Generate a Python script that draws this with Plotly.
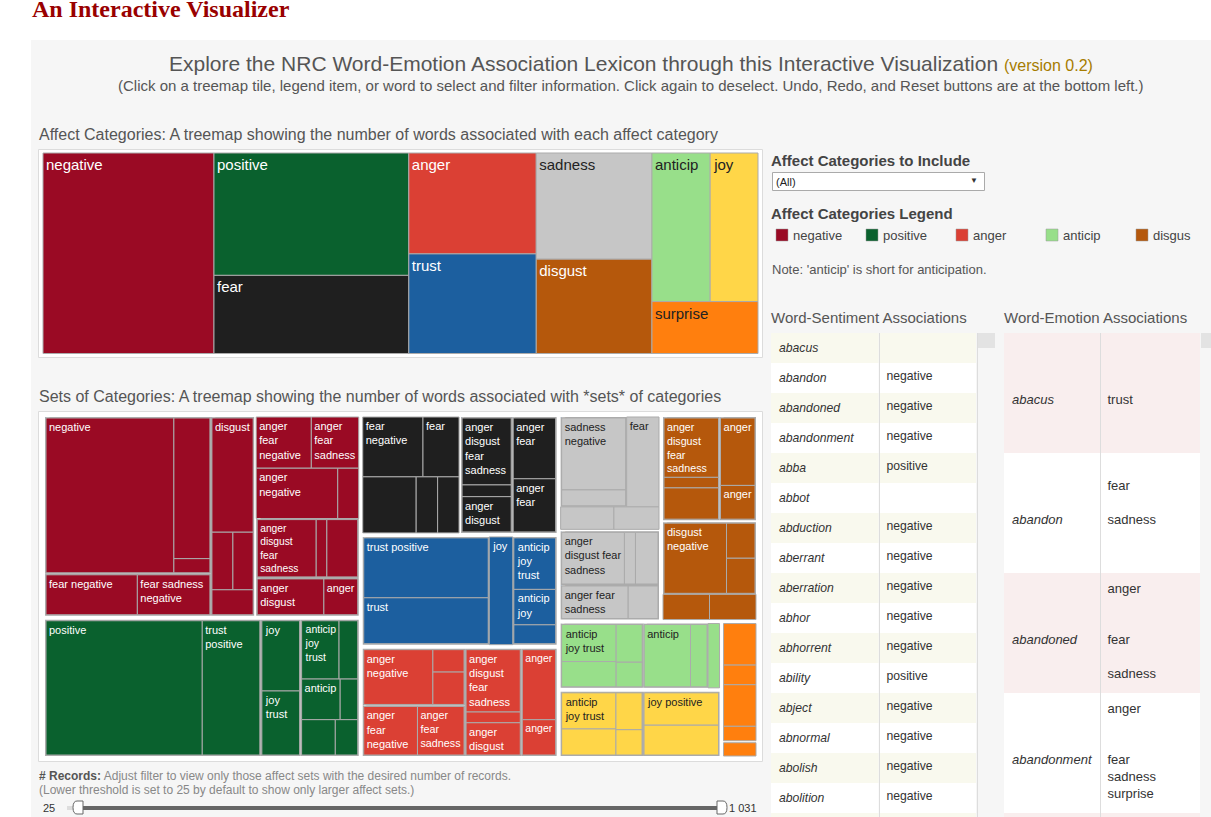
import plotly.graph_objects as go

W, H = 1211, 817


def fx(px):
    return px / W


def fy(py):
    return 1 - py / H


# ---------------------------------------------------------------- data
affect_categories = ["negative", "positive", "fear", "anger", "trust",
                     "sadness", "disgust", "anticip", "joy", "surprise"]
affect_word_counts = [3324, 2312, 1476, 1247, 1231, 1191, 1058, 839, 689, 534]
affect_colors = ["#9a0a24", "#0a612e", "#1f1f1f", "#db4034", "#1c5f9f",
                 "#c6c6c6", "#b5580c", "#98df8a", "#ffd648", "#ff7f0e"]
light_categories = ["sadness", "anticip", "joy", "surprise"]
legend_categories = ["negative", "positive", "anger", "anticip", "disgust"]

# sets of categories: tile label, number of records, sub-group, block (0 = none)
negative_sets = ["negative", "", "", "fear negative", "fear sadness\nnegative", "disgust", "", "", "",
                 "anger\nfear\nnegative", "anger\nfear\nsadness", "anger\nnegative", "",
                 "anger\ndisgust\nfear\nsadness", "", "", "anger\ndisgust", "anger"]
negative_records = [968, 248, 25, 185, 147, 238, 61, 59, 52,
                    136, 117, 198, 51, 172, 31, 90, 124, 63]
negative_groups = [1] * 9 + [2] * 9
negative_blocks = [1, 1, 1, 2, 2, 3, 3, 3, 3, 0, 0, 0, 0, 4, 4, 4, 5, 5]

positive_sets = ["positive", "trust\npositive", "joy", "joy\ntrust", "anticip\njoy\ntrust", "",
                 "anticip", "", "", ""]
positive_records = [1031, 380, 136, 124, 110, 55, 79, 36, 60, 40]
positive_groups = [1] * 10
positive_blocks = [1, 1, 2, 2, 3, 3, 3, 3, 3, 3]

fear_sets = ["fear\nnegative", "fear", "", "", "",
             "anger\ndisgust\nfear\nsadness", "", "anger\ndisgust", "anger\nfear", "anger\nfear"]
fear_records = [177, 106, 147, 59, 59, 171, 30, 90, 135, 118]
fear_groups = [1] * 5 + [2] * 5
fear_blocks = [0, 0, 0, 0, 0, 1, 1, 1, 2, 2]

trust_sets = ["trust positive", "trust", "joy", "anticip\njoy\ntrust", "anticip\njoy", ""]
trust_records = [376, 288, 124, 112, 77, 41]
trust_groups = [1] * 6
trust_blocks = [1, 1, 0, 2, 2, 2]

anger_sets = ["anger\nnegative", "", "", "anger\nfear\nnegative", "anger\nfear\nsadness",
              "anger\ndisgust\nfear\nsadness", "", "anger\ndisgust", "anger", "anger"]
anger_records = [195, 36, 52, 135, 117, 174, 30, 90, 123, 62]
anger_groups = [1] * 10
anger_blocks = [1, 1, 1, 2, 2, 3, 3, 3, 4, 4]

sadness_sets = ["sadness\nnegative", "", "fear", "", "",
                "anger\ndisgust fear\nsadness", "", "", "anger fear\nsadness", ""]
sadness_records = [239, 53, 143, 59, 50, 170, 30, 61, 116, 52]
sadness_groups = [1] * 5 + [2] * 5
sadness_blocks = [1, 1, 0, 0, 0, 2, 2, 2, 3, 3]

disgust_sets = ["anger\ndisgust\nfear\nsadness", "", "", "anger", "anger",
                "disgust\nnegative", "", "", "", ""]
disgust_records = [169, 30, 89, 124, 62, 228, 52, 52, 58, 58]
disgust_groups = [1] * 5 + [2] * 5
disgust_blocks = [1, 1, 1, 2, 2, 3, 3, 3, 0, 0]

anticip_sets = ["anticip\njoy trust", "", "", "", "anticip", "", ""]
anticip_records = [107, 73, 52, 34, 154, 55, 37]
anticip_groups = [1] * 7
anticip_blocks = [1, 1, 1, 1, 2, 2, 0]

joy_sets = ["anticip\njoy trust", "", "", "", "joy positive", ""]
joy_records = [104, 75, 51, 35, 128, 118]
joy_groups = [1] * 6
joy_blocks = [1, 1, 1, 1, 2, 2]

surprise_sets = ["", "", "", "", ""]
surprise_records = [72, 34, 72, 25, 26]
surprise_groups = [1, 1, 1, 1, 2]
surprise_blocks = [0, 0, 0, 0, 0]

slider_low = 25

sentiment_words = ["abacus", "abandon", "abandoned", "abandonment", "abba", "abbot",
                   "abduction", "aberrant", "aberration", "abhor", "abhorrent", "ability",
                   "abject", "abnormal", "abolish", "abolition", "abominable"]
sentiment_values = ["", "negative", "negative", "negative", "positive", "",
                    "negative", "negative", "negative", "negative", "negative", "positive",
                    "negative", "negative", "negative", "negative", "negative"]

emotion_words = ["abacus", "abandon", "abandoned", "abandonment", "abbot"]
emotion_values = [["trust"], ["fear", "sadness"], ["anger", "fear", "sadness"],
                  ["anger", "fear", "sadness", "surprise"], ["trust"]]

# ---------------------------------------------------------------- styles
FONT = "Arial, Liberation Sans, sans-serif"
PANEL = "#f6f6f6"
TILE_LINE = "#ababab"
TEXT_GREY = "#555555"
SENT_BAND = "#f9f9ee"
EMO_BAND = "#f9eeee"
NBSP = "\u00a0"

color_of = dict(zip(affect_categories, affect_colors))


def text_color(cat):
    return "#222222" if cat in light_categories else "#ffffff"


category_sets = {
    "negative": (negative_sets, negative_records, negative_groups, negative_blocks),
    "positive": (positive_sets, positive_records, positive_groups, positive_blocks),
    "fear": (fear_sets, fear_records, fear_groups, fear_blocks),
    "trust": (trust_sets, trust_records, trust_groups, trust_blocks),
    "anger": (anger_sets, anger_records, anger_groups, anger_blocks),
    "sadness": (sadness_sets, sadness_records, sadness_groups, sadness_blocks),
    "disgust": (disgust_sets, disgust_records, disgust_groups, disgust_blocks),
    "anticip": (anticip_sets, anticip_records, anticip_groups, anticip_blocks),
    "joy": (joy_sets, joy_records, joy_groups, joy_blocks),
    "surprise": (surprise_sets, surprise_records, surprise_groups, surprise_blocks),
}

fig = go.Figure()

# ---------------------------------------------------------------- background shapes
shapes = []


def rect(x0, y0, x1, y1, fill, line=None, lw=0, layer="below"):
    shapes.append(dict(type="rect", xref="paper", yref="paper",
                       x0=fx(x0), x1=fx(x1), y0=fy(y1), y1=fy(y0),
                       fillcolor=fill, line=dict(color=line or fill, width=lw), layer=layer))


rect(31, 40, W, H, PANEL)
rect(38.5, 149.5, 762.5, 357.5, "#ffffff", "#dcdcdc", 1)
rect(38.5, 411.5, 762.5, 761.5, "#ffffff", "#dcdcdc", 1)

# ---------------------------------------------------------------- top treemap
n = len(affect_categories)
fig.add_trace(go.Treemap(
    ids=["root"] + affect_categories,
    labels=["All"] + affect_categories,
    parents=[""] + ["root"] * n,
    values=[0] + affect_word_counts,
    branchvalues="remainder",
    sort=True,
    text=[""] + affect_categories,
    textinfo="text",
    textposition="top left",
    textfont=dict(family=FONT, size=15,
                  color=["#ffffff"] + [text_color(c) for c in affect_categories]),
    marker=dict(colors=["#ffffff"] + affect_colors,
                line=dict(color=["#ffffff"] + [TILE_LINE] * n, width=[0] + [1] * n),
                pad=dict(t=0, l=0, r=0, b=0), depthfade=False),
    tiling=dict(packing="squarify", squarifyratio=1.618034, pad=0),
    pathbar=dict(visible=False),
    domain=dict(x=[fx(43), fx(758)], y=[fy(353.5), fy(153)]),
    hovertemplate="%{label}: %{value}<extra></extra>",
))

# ---------------------------------------------------------------- sets treemap
ids, labels, parents, values, texts = ["root"], [""], [""], [0], [""]
fills, tcols, lcols, lws = ["#ffffff"], ["#ffffff"], ["#ffffff"], [0]


def add_node(i, lab, par, val, txt, fill, tcol, lcol, lw):
    ids.append(i); labels.append(lab); parents.append(par); values.append(val)
    texts.append(txt); fills.append(fill); tcols.append(tcol); lcols.append(lcol); lws.append(lw)


totals = {c: sum(category_sets[c][1]) for c in affect_categories}
for cat in sorted(affect_categories, key=lambda c: -totals[c]):
    labs, recs, grps, blks = category_sets[cat]
    cid = "c/" + cat
    add_node(cid, cat, "root", 0, "", "#ffffff", "#ffffff", "#ffffff", 0)
    seen = set()
    for k, (lab, rec, g, b) in enumerate(zip(labs, recs, grps, blks)):
        gid = f"{cid}/g{g}"
        if gid not in seen:
            seen.add(gid)
            add_node(gid, cat, cid, 0, "", "#ffffff", "#ffffff", "#ffffff", 0)
        par = gid
        if b:
            bid = f"{gid}/b{b}"
            if bid not in seen:
                seen.add(bid)
                add_node(bid, cat, gid, 0, "", TILE_LINE, "#ffffff", TILE_LINE, 0)
            par = bid
        add_node(f"{cid}/s{k}", lab.replace("\n", " ") or cat, par, rec,
                 lab.replace("\n", "<br>"), color_of[cat], text_color(cat), TILE_LINE, 1)

fig.add_trace(go.Treemap(
    ids=ids, labels=labels, parents=parents, values=values,
    branchvalues="remainder", sort=False,
    text=texts, textinfo="text", textposition="top left",
    textfont=dict(family=FONT, size=11, color=tcols),
    marker=dict(colors=fills, line=dict(color=lcols, width=lws),
                pad=dict(t=1, l=1, r=1, b=1), depthfade=False),
    tiling=dict(packing="squarify", squarifyratio=1.65, pad=0),
    pathbar=dict(visible=False),
    domain=dict(x=[fx(42), fx(759)], y=[fy(759), fy(414)]),
    hovertemplate="%{label}: %{value}<extra></extra>",
))

# ---------------------------------------------------------------- tables
ns = len(sentiment_words)
s_fill = [SENT_BAND if i % 2 == 0 else "#ffffff" for i in range(ns)]
fig.add_trace(go.Table(
    columnwidth=[108, 98],
    header=dict(values=["", ""], height=1, fill=dict(color=PANEL), line=dict(color=PANEL, width=0)),
    cells=dict(values=[[f"<i>{w}</i>" for w in sentiment_words], sentiment_values],
               height=30, align="left",
               fill=dict(color=[s_fill, s_fill]),
               line=dict(color=[s_fill, s_fill], width=0),
               font=dict(family=FONT, size=12.2, color="#333333")),
    domain=dict(x=[fx(771), fx(977)], y=[0, fy(332)]),
))

slot_patterns = {1: [3], 2: [1, 3], 3: [0, 3, 5], 4: [0, 3, 4, 5]}


def slotted(items):
    slots = slot_patterns[len(items)]
    lines = [NBSP] * (max(slots) + 1)
    for s, it in zip(slots, items):
        lines[s] = it
    return "<br>".join(lines)


ne = len(emotion_words)
e_fill = [EMO_BAND if i % 2 == 0 else "#ffffff" for i in range(ne)]
fig.add_trace(go.Table(
    columnwidth=[96, 100],
    header=dict(values=["", ""], height=1, fill=dict(color=PANEL), line=dict(color=PANEL, width=0)),
    cells=dict(values=[[(NBSP + "<br>") * 3 + f"<i>{w}</i>" for w in emotion_words],
                       [slotted(v) for v in emotion_values]],
               height=120, align="left",
               fill=dict(color=[e_fill, e_fill]),
               line=dict(color=[e_fill, e_fill], width=1),
               font=dict(family=FONT, size=13, color="#333333")),
    domain=dict(x=[fx(1004), fx(1200)], y=[0, fy(332)]),
))

# table dividers / scroll areas
for x in (879.5, 977.5, 1100.5):
    shapes.append(dict(type="line", xref="paper", yref="paper", x0=fx(x), x1=fx(x),
                       y0=0, y1=fy(333), line=dict(color="#dddddd", width=1), layer="above"))
rect(978, 333, 995, 348, "#e3e3e3", layer="above")
rect(1201, 333, W, 348, "#e3e3e3", layer="above")

# ---------------------------------------------------------------- annotations
ann = []


def text(x, y, s, size, color=TEXT_GREY, xanchor="left", family=FONT):
    ann.append(dict(x=fx(x), y=fy(y), xref="paper", yref="paper", text=s, showarrow=False,
                    xanchor=xanchor, yanchor="middle", align="left",
                    font=dict(family=family, size=size, color=color)))


text(30, 9, "<b>An Interactive Visualizer</b>", 24, "#990000",
     family="Liberation Serif, Times New Roman, serif")
text(631, 64, "Explore the NRC Word-Emotion Association Lexicon through this Interactive "
              "Visualization <span style='font-size:16px;color:#a67c00'>(version 0.2)</span>",
     21, TEXT_GREY, xanchor="center")
text(631, 85, "(Click on a treemap tile, legend item, or word to select and filter information. "
              "Click again to deselect. Undo, Redo, and Reset buttons are at the bottom left.)",
     15, TEXT_GREY, xanchor="center")
text(37, 134, "Affect Categories: A treemap showing the number of words associated with each affect category",
     16, TEXT_GREY)
text(37, 396, "Sets of Categories: A treemap showing the number of words associated with *sets* of categories",
     16, TEXT_GREY)

# filter dropdown
text(769, 160, "<b>Affect Categories to Include</b>", 15, "#444444")
rect(772.5, 172.5, 984.5, 190.5, "#ffffff", "#aaaaaa", 1, layer="above")
text(774, 181.5, "(All)", 11, "#222222")
text(974, 181, "▼", 8, "#333333", xanchor="center")

# legend
text(769, 213, "<b>Affect Categories Legend</b>", 15, "#444444")
for i, cat in enumerate(legend_categories):
    x0 = 776 + 90 * i
    rect(x0, 229, x0 + 12, 241, color_of[cat], "#9a9a9a", 0.5, layer="above")
    room = int((1192 - (x0 + 17)) / 6.2)
    text(x0 + 15, 235, cat[:room], 13, "#444444")
text(770, 269, "Note: 'anticip' is short for anticipation.", 13, TEXT_GREY)

text(769, 318, "Word-Sentiment Associations", 15, TEXT_GREY)
text(1002, 318, "Word-Emotion Associations", 15, TEXT_GREY)

# records filter
all_records = [r for c in affect_categories for r in category_sets[c][1]]
slider_high = max(all_records)
text(37, 776, "<b># Records:</b> <span style='color:#888888'>Adjust filter to view only those affect sets "
              "with the desired number of records.</span>", 12, "#555555")
text(37, 790, "(Lower threshold is set to 25 by default to show only larger affect sets.)", 12, "#888888")
text(41, 808, f"{slider_low}", 11, "#333333")
text(727, 808, f"{slider_high:,}".replace(",", " "), 11, "#333333")

track_x0, track_x1 = 62, 722
hx_lo = track_x0 + (track_x1 - track_x0) * slider_low / slider_high
hx_hi = track_x0 + (track_x1 - track_x0) * slider_high / slider_high
rect(hx_lo - 11, 806, hx_lo, 810, "#dddddd", layer="above")
rect(hx_lo, 806, hx_hi, 810, "#666666", layer="above")


def handle(xc, left):
    xa, xb = (xc - 5, xc + 5)
    y0, y1, ym = fy(801), fy(814), fy(807.5)
    if left:
        p = (f"M {fx(xb)} {y0} L {fx(xa + 4)} {y0} Q {fx(xa)} {y0} {fx(xa)} {ym} "
             f"Q {fx(xa)} {y1} {fx(xa + 4)} {y1} L {fx(xb)} {y1} Z")
    else:
        p = (f"M {fx(xa)} {y0} L {fx(xb - 4)} {y0} Q {fx(xb)} {y0} {fx(xb)} {ym} "
             f"Q {fx(xb)} {y1} {fx(xb - 4)} {y1} L {fx(xa)} {y1} Z")
    shapes.append(dict(type="path", xref="paper", yref="paper", path=p,
                       fillcolor="#ffffff", line=dict(color="#666666", width=1), layer="above"))


handle(hx_lo, True)
handle(hx_hi, False)

fig.update_layout(
    width=W, height=H, autosize=False,
    margin=dict(l=0, r=0, t=0, b=0, pad=0),
    paper_bgcolor="#ffffff", plot_bgcolor="#ffffff",
    shapes=shapes, annotations=ann, showlegend=False,
    font=dict(family=FONT),
)

fig.write_html("out.html", config={"displayModeBar": False},
               post_script="document.body.style.margin='0px';")
